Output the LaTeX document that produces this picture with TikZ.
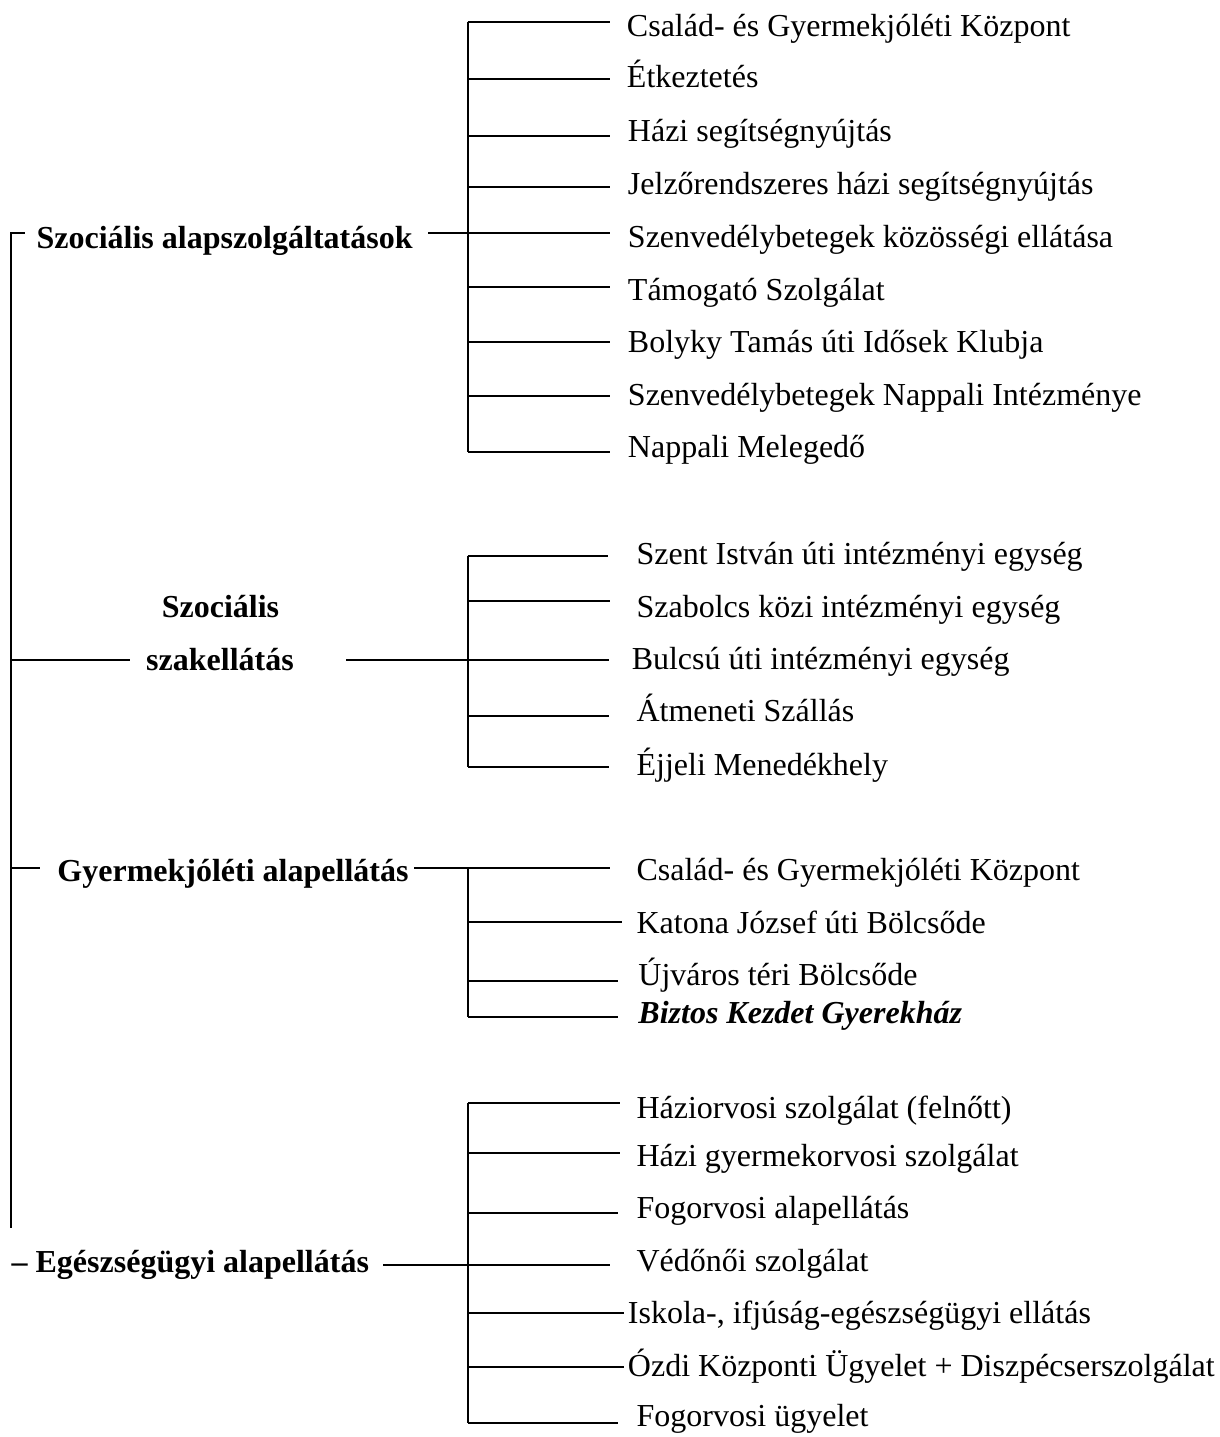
\documentclass[tikz,border=0pt]{standalone}
\usepackage{fontspec}
\setmainfont{Liberation Serif}
\newcommand\mybranch[4]{%
  \coordinate (k#3) at (#1,#2);
  \draw[shorten >=#4pt] (k#3) -- (k#3 -| #3.west);}
\begin{document}
\begin{tikzpicture}[x=1pt,y=-1pt,line width=1.9pt,
  item/.style={anchor=base west,inner sep=0pt,font=\fontsize{32}{38}\selectfont},
  head/.style={item,font=\fontsize{32}{38}\selectfont\bfseries},
  headc/.style={anchor=base,inner sep=0pt,font=\fontsize{32}{38}\selectfont\bfseries}]
\useasboundingbox (0,0) rectangle (1219,1437);

% ---------- group 1 ----------
\node[head] (g1) at (35.6,248.3) {Szociális alapszolgáltatások};
\node[item] (a1) at (626,36.7) {Család- és Gyermekjóléti Központ};
\node[item] (a2) at (626,88) {Étkeztetés};
\node[item] (a3) at (627,141.7) {Házi segítségnyújtás};
\node[item] (a4) at (627,194) {Jelzőrendszeres házi segítségnyújtás};
\node[item] (a5) at (627,247) {Szenvedélybetegek közösségi ellátása};
\node[item] (a6) at (627,300) {Támogató Szolgálat};
\node[item] (a7) at (627,352) {Bolyky Tamás úti Idősek Klubja};
\node[item] (a8) at (627,405) {Szenvedélybetegek Nappali Intézménye};
\node[item] (a9) at (627,457) {Nappali Melegedő};
\draw (467.6,21.7) -- (467.6,452.3);
\mybranch{467.6}{21.7}{a1}{16}
\mybranch{467.6}{79.3}{a2}{16}
\mybranch{467.6}{135.7}{a3}{17}
\mybranch{467.6}{187.3}{a4}{17}
\mybranch{467.6}{233.3}{a5}{17}
\mybranch{467.6}{286.7}{a6}{17}
\mybranch{467.6}{341.7}{a7}{17}
\mybranch{467.6}{395.7}{a8}{17}
\mybranch{467.6}{452.3}{a9}{17}
\coordinate (j1) at (428,233.3);
\draw (j1) -- (ka5);

% ---------- main spine ----------
\coordinate (s0) at (24.5,233);
\coordinate (s1) at (10.7,233);
\coordinate (s2) at (10.7,1228);
\draw (s0) -- (s1) -- (s2);

% ---------- group 2 ----------
\node[headc] (g2a) at (220.5,617.7) {Szociális};
\node[headc] (g2b) at (220,670) {szakellátás};
\node[item] (b1) at (635.6,564) {Szent István úti intézményi egység};
\node[item] (b2) at (635.6,617.3) {Szabolcs közi intézményi egység};
\node[item] (b3) at (630.8,669.3) {Bulcsú úti intézményi egység};
\node[item] (b4) at (635.6,721.7) {Átmeneti Szállás};
\node[item] (b5) at (635.6,775) {Éjjeli Menedékhely};
\draw (467.6,556) -- (467.6,766.7);
\mybranch{467.6}{556}{b1}{27.6}
\mybranch{467.6}{600.7}{b2}{25.6}
\mybranch{467.6}{660.3}{b3}{21.8}
\mybranch{467.6}{716}{b4}{26.6}
\mybranch{467.6}{766.7}{b5}{26.6}
\coordinate (l2a) at (10.7,660.3);
\coordinate (l2b) at (130,660.3);
\coordinate (l2c) at (346,660.3);
\draw (l2a) -- (l2b);
\draw (l2c) -- (kb3);

% ---------- group 3 ----------
\coordinate (l3a) at (10.7,868.3);
\coordinate (l3b) at (39.5,868.3);
\draw (l3a) -- (l3b);
\node[head] (g3) at (56.5,881.7) {Gyermekjóléti alapellátás};
\node[item] (c1) at (635.6,880) {Család- és Gyermekjóléti Központ};
\node[item] (c2) at (635.6,933.3) {Katona József úti Bölcsőde};
\node[item] (c3) at (637.5,985) {Újváros téri Bölcsőde};
\node[item,font=\fontsize{32}{38}\selectfont\bfseries\itshape] (c4) at (637.5,1023.3) {Biztos Kezdet Gyerekház};
\draw (467.6,868.3) -- (467.6,1016.7);
\coordinate (l3c) at (414,868.3);
\draw[shorten >=25.6pt] (l3c) -- (l3c -| c1.west);
\mybranch{467.6}{921.7}{c2}{13.6}
\mybranch{467.6}{981}{c3}{19.5}
\mybranch{467.6}{1016.7}{c4}{19.5}

% ---------- group 4 ----------
\node[head] (g4) at (10.7,1272.7) {– Egészségügyi alapellátás};
\node[item] (d1) at (635.6,1118.3) {Háziorvosi szolgálat (felnőtt)};
\node[item] (d2) at (635.6,1166) {Házi gyermekorvosi szolgálat};
\node[item] (d3) at (635.6,1218) {Fogorvosi alapellátás};
\node[item] (d4) at (635.6,1271.7) {Védőnői szolgálat};
\node[item] (d5) at (627,1323.3) {Iskola-, ifjúság-egészségügyi ellátás};
\node[item] (d6) at (627,1376.7) {Ózdi Központi Ügyelet + Diszpécserszolgálat};
\node[item] (d7) at (635.6,1426.7) {Fogorvosi ügyelet};
\draw (468.4,1102.7) -- (468.4,1423.3);
\mybranch{468.4}{1102.7}{d1}{15.6}
\mybranch{468.4}{1153.3}{d2}{15.6}
\mybranch{468.4}{1213.3}{d3}{17.6}
\mybranch{468.4}{1312.7}{d5}{3.3}
\mybranch{468.4}{1366.7}{d6}{3.3}
\mybranch{468.4}{1423.3}{d7}{17.6}
\coordinate (l4a) at (383,1265);
\draw[shorten >=25.6pt] (l4a) -- (l4a -| d4.west);
\end{tikzpicture}
\end{document}
